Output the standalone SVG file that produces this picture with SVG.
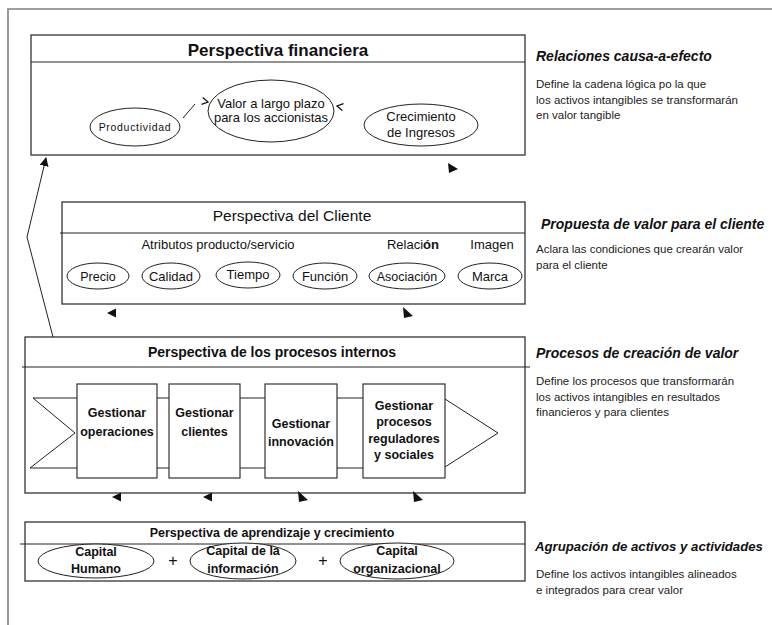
<svg xmlns="http://www.w3.org/2000/svg" xmlns:xlink="http://www.w3.org/1999/xlink" width="772" height="625" viewBox="0 0 772 625">
<style>
  .frame{fill:none;stroke:#808080;stroke-width:1.6}
  .box{fill:none;stroke:#333;stroke-width:1.3}
  .pbox{fill:#fff;stroke:#333;stroke-width:1.2}
  .ell{fill:#fff;stroke:#222;stroke-width:1}
  .ln{fill:none;stroke:#222;stroke-width:1}
  .t{font-family:"Liberation Sans",Arial,sans-serif;fill:#111}
  .tb{font-family:"Liberation Sans",Arial,sans-serif;fill:#111;font-weight:bold}
  .hd{font-family:"Liberation Sans",Arial,sans-serif;fill:#111;font-weight:bold;font-style:italic}
  .bd{font-family:"Liberation Sans",Arial,sans-serif;fill:#222;font-size:11.5px}
  .c{text-anchor:middle}
  .ah{fill:#111;stroke:none}
</style>
<defs>
  <marker id="arr" viewBox="0 0 10 10" refX="9" refY="5" markerWidth="9" markerHeight="9" markerUnits="userSpaceOnUse" orient="auto">
    <path d="M0,0 L10,5 L0,10 Z" fill="#111"/>
  </marker>
  <path id="chev" d="M-6,-3.5 L0,0 L-6,3.5" fill="none" stroke="#111" stroke-width="1.3"/>
  <path id="tdr" d="M-4,-6 L-3,5 L6,3 Z"/>
  <path id="tr" d="M-4,-5 L-3,5 L6,1 Z"/>
  <path id="tl" d="M-5,0 L4,-4.5 L4,4.5 Z"/>
</defs>

<!-- outer frame -->
<path class="frame" d="M8,625 L8,9 L772,9"/>

<!-- Financial perspective -->
<g id="financiera">
  <rect class="box" x="31" y="35" width="494" height="120"/>
  <line class="ln" x1="31" y1="62" x2="525" y2="62"/>
  <text class="tb c" x="278" y="56" font-size="17">Perspectiva financiera</text>
</g>
<g id="productividad">
  <ellipse class="ell" cx="135" cy="127" rx="45" ry="19"/>
  <text class="t c" x="135" y="131" font-size="10.5" letter-spacing="0.7">Productividad</text>
</g>
<g id="valor">
  <ellipse class="ell" cx="271" cy="111" rx="63" ry="31"/>
  <text class="t c" x="271" y="108" font-size="13">Valor a largo plazo</text>
  <text class="t c" x="271" y="122" font-size="13">para los accionistas</text>
</g>
<g id="crecimiento">
  <ellipse class="ell" cx="421" cy="125" rx="57" ry="21"/>
  <text class="t c" x="421" y="121" font-size="13">Crecimiento</text>
  <text class="t c" x="421" y="137" font-size="13">de Ingresos</text>
</g>

<!-- Client perspective -->
<g id="cliente">
  <rect class="box" x="62" y="202" width="463" height="102"/>
  <line class="ln" x1="60" y1="233" x2="525" y2="233"/>
  <text class="t c" x="292" y="221" font-size="15.5">Perspectiva del Cliente</text>
  <text class="t c" x="218" y="249" font-size="13">Atributos producto/servicio</text>
  <text class="t c" x="413" y="249" font-size="13">Relaci<tspan font-weight="bold">ón</tspan></text>
  <text class="t c" x="492" y="249" font-size="13">Imagen</text>
</g>
<g id="precio"><ellipse class="ell" cx="98" cy="276" rx="31" ry="13"/><text class="t c" x="98" y="281" font-size="12.5">Precio</text></g>
<g id="calidad"><ellipse class="ell" cx="171" cy="276" rx="29" ry="13"/><text class="t c" x="171" y="281" font-size="13">Calidad</text></g>
<g id="tiempo"><ellipse class="ell" cx="248" cy="275" rx="32" ry="13"/><text class="t c" x="248" y="279" font-size="13">Tiempo</text></g>
<g id="funcion"><ellipse class="ell" cx="325" cy="276" rx="32" ry="13"/><text class="t c" x="325" y="281" font-size="13">Función</text></g>
<g id="asociacion"><ellipse class="ell" cx="407" cy="276" rx="38" ry="13"/><text class="t c" x="407" y="281" font-size="12.5">Asociación</text></g>
<g id="marca"><ellipse class="ell" cx="490" cy="276" rx="32" ry="13"/><text class="t c" x="490" y="281" font-size="13">Marca</text></g>

<!-- Internal processes -->
<g id="procesos">
  <rect class="box" x="25" y="337" width="500" height="156"/>
  <line class="ln" x1="22" y1="367" x2="530" y2="367"/>
  <text class="tb c" x="272" y="357" font-size="14">Perspectiva de los procesos internos</text>
  <path class="ln" d="M33,398 L75,433 L30,468 M33,398 L445,398 M30,468 L445,468 M445,399 L498,433 L445,467"/>
</g>
<g id="operaciones">
  <rect class="pbox" x="77" y="384" width="80" height="94"/>
  <text class="tb c" x="117" y="417" font-size="12.5">Gestionar</text>
  <text class="tb c" x="117" y="436" font-size="12.5">operaciones</text>
</g>
<g id="clientes">
  <rect class="pbox" x="169" y="384" width="71" height="94"/>
  <text class="tb c" x="204.5" y="417" font-size="12.5">Gestionar</text>
  <text class="tb c" x="204.5" y="436" font-size="12.5">clientes</text>
</g>
<g id="innovacion">
  <rect class="pbox" x="265" y="384" width="72" height="94"/>
  <text class="tb c" x="301" y="428" font-size="12.5">Gestionar</text>
  <text class="tb c" x="301" y="446" font-size="12.5">innovación</text>
</g>
<g id="reguladores">
  <rect class="pbox" x="363" y="384" width="82" height="94"/>
  <text class="tb c" x="404" y="410" font-size="12.5">Gestionar</text>
  <text class="tb c" x="404" y="426" font-size="12.5">procesos</text>
  <text class="tb c" x="404" y="443" font-size="12.5">reguladores</text>
  <text class="tb c" x="404" y="459" font-size="12.5">y sociales</text>
</g>

<!-- Learning and growth -->
<g id="aprendizaje">
  <rect class="box" x="25" y="522" width="500" height="59"/>
  <line class="ln" x1="20" y1="544" x2="525" y2="544"/>
  <text class="tb c" x="272" y="537" font-size="12.5">Perspectiva de aprendizaje y crecimiento</text>
  <text class="t c" x="173" y="566" font-size="16" fill="#555">+</text>
  <text class="t c" x="323" y="566" font-size="16" fill="#555">+</text>
</g>
<g id="capital-humano">
  <ellipse class="ell" cx="96" cy="561" rx="58" ry="17"/>
  <text class="tb c" x="96" y="556" font-size="12.5">Capital</text>
  <text class="tb c" x="96" y="573" font-size="12.5">Humano</text>
</g>
<g id="capital-informacion">
  <ellipse class="ell" cx="243" cy="561" rx="53" ry="18"/>
  <text class="tb c" x="243" y="555" font-size="12.5">Capital de la</text>
  <text class="tb c" x="243" y="573" font-size="12.5">información</text>
</g>
<g id="capital-organizacional">
  <ellipse class="ell" cx="397" cy="561" rx="57" ry="18"/>
  <text class="tb c" x="397" y="555" font-size="12.5">Capital</text>
  <text class="tb c" x="397" y="573" font-size="12.5">organizacional</text>
</g>

<!-- Right column -->
<g id="nota-financiera">
  <text class="hd" x="536" y="61" font-size="14">Relaciones causa-a-efecto</text>
  <text class="bd" x="536" y="88">Define la cadena lógica po la que</text>
  <text class="bd" x="536" y="103.5">los activos intangibles se transformarán</text>
  <text class="bd" x="536" y="119">en valor tangible</text>
</g>
<g id="nota-cliente">
  <text class="hd" x="541" y="229" font-size="14">Propuesta de valor para el cliente</text>
  <text class="bd" x="536" y="253">Aclara las condiciones que crearán valor</text>
  <text class="bd" x="536" y="268.5">para el cliente</text>
</g>
<g id="nota-procesos">
  <text class="hd" x="536" y="358" font-size="14">Procesos de creación de valor</text>
  <text class="bd" x="536" y="385">Define los procesos que transformarán</text>
  <text class="bd" x="536" y="400.5">los activos intangibles en resultados</text>
  <text class="bd" x="536" y="416">financieros y para clientes</text>
</g>
<g id="nota-aprendizaje">
  <text class="hd" x="535" y="551" font-size="13.2">Agrupación de activos y actividades</text>
  <text class="bd" x="536" y="578">Define los activos intangibles alineados</text>
  <text class="bd" x="536" y="593.5">e integrados para crear valor</text>
</g>

<!-- Connectors -->
<g id="connectors">
  <polyline class="ln" points="53,337 27,237 46,158" marker-end="url(#arr)"/>
  <line class="ln" x1="183" y1="118" x2="195" y2="104"/>
  <use xlink:href="#chev" transform="translate(208,102) rotate(10)"/>
  <use xlink:href="#chev" transform="translate(337,106) rotate(190)"/>
  <use class="ah" xlink:href="#tr" x="452" y="168"/>
  <use class="ah" xlink:href="#tl" x="112" y="313"/>
  <use class="ah" xlink:href="#tdr" x="407" y="313"/>
  <use class="ah" xlink:href="#tl" x="117" y="497"/>
  <use class="ah" xlink:href="#tl" x="208" y="497"/>
  <use class="ah" xlink:href="#tdr" x="302" y="497"/>
  <use class="ah" xlink:href="#tdr" x="417" y="497"/>
</g>
</svg>
